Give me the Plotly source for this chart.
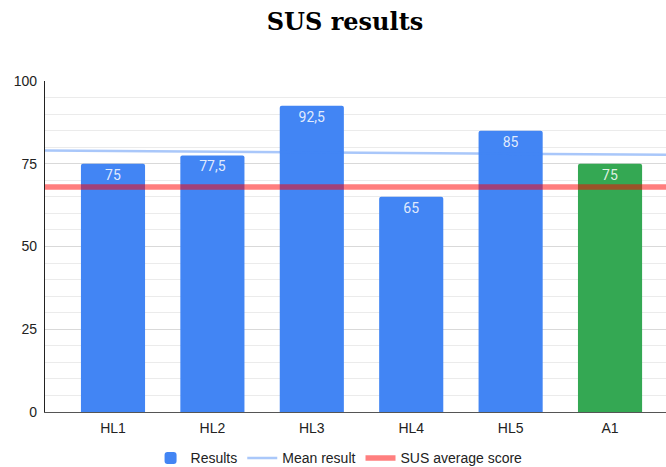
import plotly.graph_objects as go

# SUS scores per participant
categories = ["HL1", "HL2", "HL3", "HL4", "HL5", "A1"]
scores = [75, 77.5, 92.5, 65, 85, 75]
bar_colors = ["#4285f4", "#4285f4", "#4285f4", "#4285f4", "#4285f4", "#34a853"]
score_labels = ["75", "77,5", "92,5", "65", "85", "75"]

# Reference lines across the full plot width (left edge, right edge)
mean_result = [79.0, 77.7]
sus_average = [68, 68]
line_span = [0, 1]

fig = go.Figure()

fig.add_trace(go.Bar(
    x=categories, y=scores, name="Results",
    marker=dict(color=bar_colors, line=dict(width=0)),
    text=score_labels, textposition="inside", insidetextanchor="end",
    textangle=0,
    textfont=dict(family="Roboto, Arial, sans-serif", size=14, color="rgba(255,255,255,0.85)"),
    cliponaxis=False,
    xaxis="x", yaxis="y",
))

fig.add_trace(go.Scatter(
    x=line_span, y=mean_result, name="Mean result", mode="lines",
    line=dict(color="#4285f4", width=2.5), opacity=0.45,
    xaxis="x2", yaxis="y", hoverinfo="skip",
))

fig.add_trace(go.Scatter(
    x=line_span, y=sus_average, name="SUS average score", mode="lines",
    line=dict(color="#ff0000", width=5.5), opacity=0.5,
    xaxis="x2", yaxis="y", hoverinfo="skip",
))

fig.update_layout(
    width=666, height=467,
    margin=dict(l=45, r=0, t=81, b=55, autoexpand=False),
    paper_bgcolor="white", plot_bgcolor="white",
    bargap=0.355,
    barcornerradius=2,
    showlegend=True,
    title=dict(
        text="<b>SUS results</b>",
        font=dict(family="DejaVu Serif, Liberation Serif, serif", size=24, color="#000000"),
        x=0.518, xanchor="center", y=0.953, yanchor="middle",
    ),
    font=dict(family="Liberation Sans, Arial, sans-serif", size=14, color="#222222"),
    xaxis=dict(
        type="category",
        range=[-0.684, 5.563],
        showgrid=False, zeroline=False,
        showline=True, linecolor="#555555", linewidth=1,
        ticks="", ticklabelstandoff=3, tickfont=dict(size=14, color="#222222"),
        fixedrange=True,
    ),
    xaxis2=dict(
        overlaying="x", range=[0, 1], visible=False, fixedrange=True,
    ),
    yaxis=dict(
        range=[0, 100], tickvals=[0, 25, 50, 75, 100],
        showgrid=True, gridcolor="#d9d9d9", gridwidth=1,
        minor=dict(dtick=5, showgrid=True, gridcolor="#ebebeb", gridwidth=1),
        zeroline=False,
        showline=True, linecolor="#222222", linewidth=1.2,
        ticks="", ticklabelstandoff=4,
        tickfont=dict(size=14, color="#222222"),
        fixedrange=True,
    ),
    legend=dict(
        orientation="h", x=0.17, xanchor="left", y=-0.14, yanchor="middle",
        font=dict(size=14, color="#222222"),
        itemwidth=30,
    ),
)

fig.write_html("out.html")
